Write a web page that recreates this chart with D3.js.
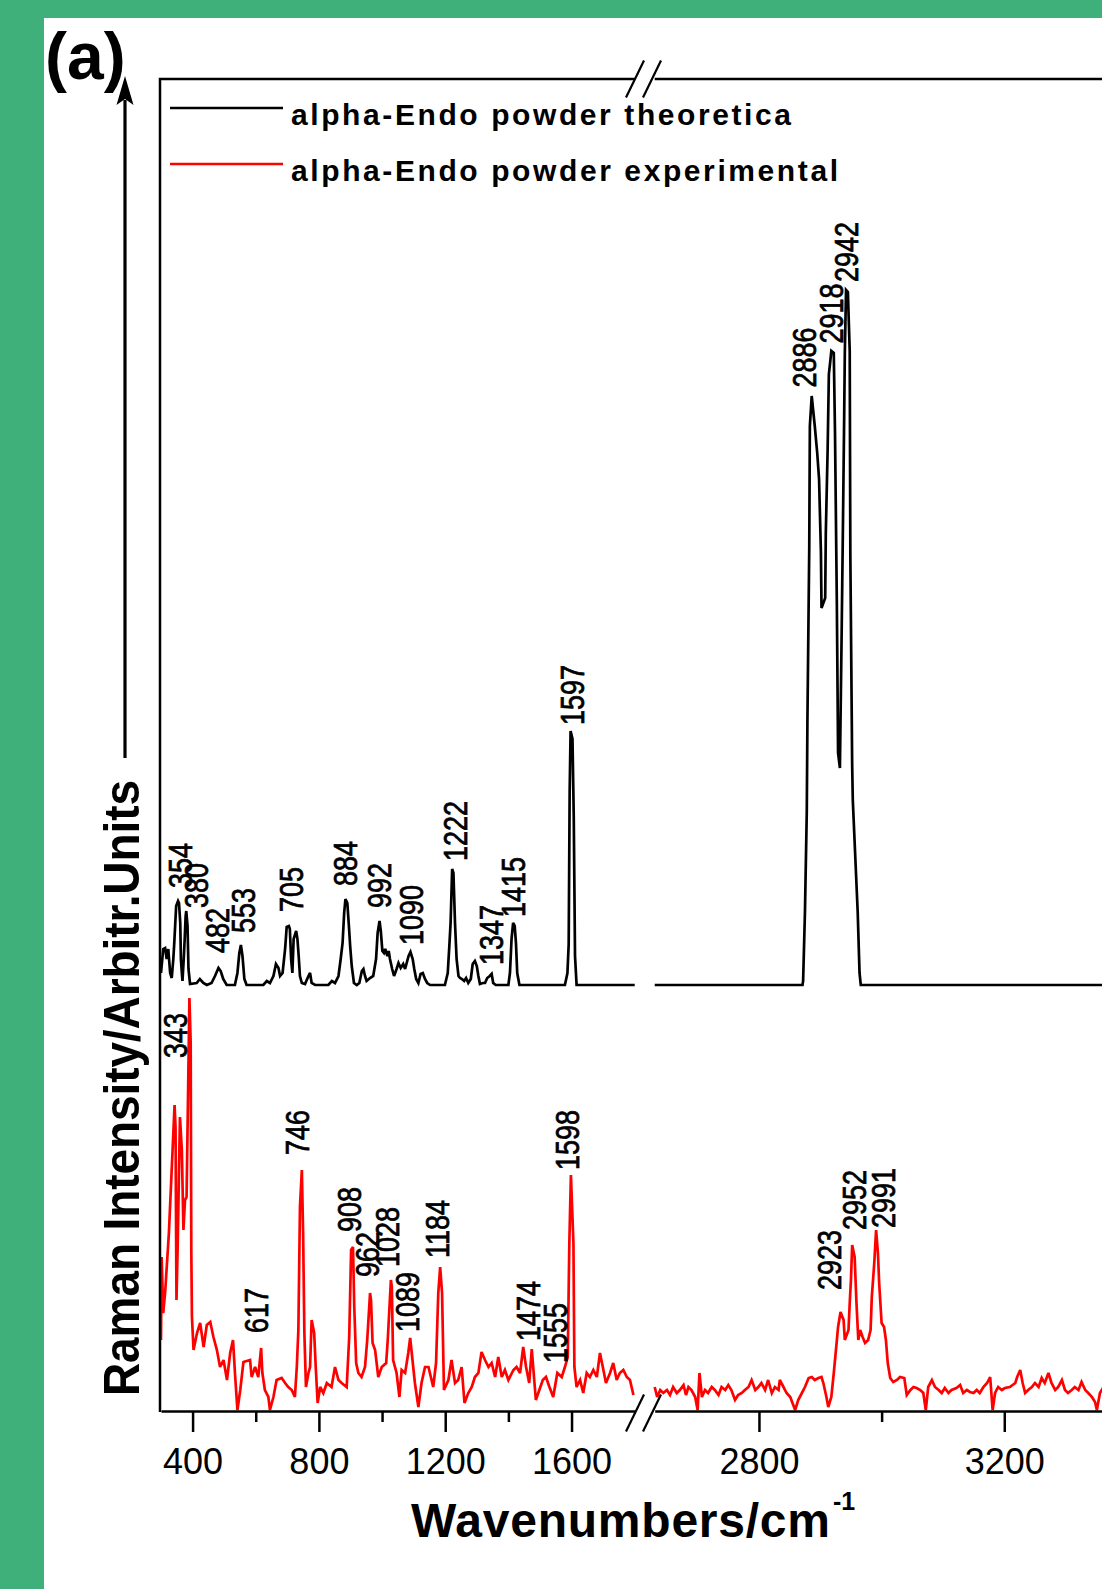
<!DOCTYPE html>
<html>
<head>
<meta charset="utf-8">
<script src="https://cdn.jsdelivr.net/npm/d3@7"></script>
<style>
  html, body { margin: 0; padding: 0; background: #3fb079; }
  svg { display: block; }
  text { font-family: "Liberation Sans", Arial, Helvetica, sans-serif; }
</style>
</head>
<body>
<svg id="chart" width="1102" height="1589"></svg>
<script>
// ---- axis segments (broken wavenumber axis) ----
const leftRange = [300, 1800];
const rightRange = [2630, 3360];
const majorLeftTicks = [400, 800, 1200, 1600];
const minorLeftTicks = [600, 1000, 1400];
const majorRightTicks = [2800, 3200];
const minorRightTicks = [3000];

// ---- theoretical spectrum (wavenumber, intensity above its own baseline) ----
const theoOffset = 426;
const theoLeft = [[300,12],[307,36],[313,37],[318,26],[323,36],[329,12],[334,7],[339,26],[342,42],[348,79],[354,84],[357,82],[361,62],[363,26],[366,12],[368,4],[372,26],[375,46],[378,69],[380,74],[384,59],[387,16],[392,1],[413,2],[423,6],[434,2],[445,0],[460,2],[471,9],[482,17],[489,14],[497,6],[508,0],[534,0],[542,12],[548,32],[553,40],[558,29],[564,6],[571,0],[624,0],[635,4],[645,2],[656,9],[664,21],[672,17],[677,9],[685,12],[693,36],[698,58],[705,59],[708,56],[712,26],[716,12],[720,46],[723,49],[728,54],[732,46],[736,29],[740,9],[746,2],[756,1],[767,9],[772,12],[777,2],[788,0],[830,0],[841,4],[851,2],[862,9],[869,26],[875,42],[880,72],[884,86],[890,82],[895,59],[899,39],[904,19],[911,2],[920,0],[928,2],[936,14],[941,16],[946,9],[951,4],[962,7],[972,9],[981,26],[986,52],[992,64],[996,54],[1001,34],[1006,32],[1010,36],[1017,29],[1021,34],[1025,26],[1032,16],[1038,9],[1046,16],[1052,22],[1059,17],[1067,21],[1073,16],[1078,22],[1084,29],[1090,33],[1097,26],[1102,16],[1108,6],[1115,2],[1122,11],[1129,12],[1136,6],[1143,2],[1152,0],[1199,0],[1208,12],[1213,39],[1217,62],[1222,116],[1226,112],[1231,62],[1236,26],[1242,9],[1247,7],[1253,6],[1260,4],[1266,7],[1273,2],[1281,6],[1287,21],[1294,24],[1300,19],[1305,9],[1310,1],[1319,2],[1326,2],[1333,7],[1341,9],[1347,11],[1352,2],[1360,0],[1400,0],[1405,12],[1410,46],[1415,62],[1420,59],[1424,42],[1428,12],[1435,0],[1579,0],[1587,12],[1591,41],[1594,192],[1597,254],[1603,246],[1607,169],[1611,29],[1616,0],[1800,0]];
const theoRight = [[2630,0],[2871,0],[2872,4],[2875,73],[2878,174],[2879,263],[2882,437],[2883,559],[2886,589],[2891,559],[2895,532],[2898,506],[2901,433],[2902,377],[2908,387],[2909,452],[2912,536],[2914,611],[2916,622],[2918,634],[2922,632],[2924,552],[2927,381],[2929,232],[2932,217],[2935,360],[2937,463],[2939,571],[2940,632],[2942,695],[2945,693],[2948,634],[2949,431],[2952,219],[2953,185],[2961,73],[2964,12],[2966,0],[3360,0]];

// ---- experimental spectrum (wavenumber, intensity) ----
const expLeft = [[300,71],[302,154],[307,98],[313,118],[325,178],[343,306],[346,284],[349,111],[353,168],[360,294],[366,261],[371,181],[376,211],[381,214],[390,413],[394,368],[396,158],[398,94],[403,61],[414,78],[424,88],[435,64],[445,86],[456,89],[466,74],[477,61],[487,44],[498,51],[509,31],[519,58],[528,71],[535,34],[542,1],[551,21],[561,49],[582,51],[587,34],[598,44],[608,34],[617,63],[621,38],[629,21],[640,14],[645,1],[656,14],[666,31],[682,33],[693,28],[703,24],[714,21],[724,14],[730,44],[735,81],[740,204],[746,241],[750,178],[754,78],[759,24],[767,38],[772,44],[777,91],[785,78],[790,44],[796,8],[804,24],[814,18],[825,28],[840,24],[851,44],[862,31],[872,28],[888,24],[896,74],[902,161],[908,164],[912,104],[918,48],[925,38],[935,34],[946,44],[953,71],[962,118],[965,111],[970,68],[978,61],[988,34],[999,44],[1013,48],[1018,71],[1028,131],[1031,124],[1035,51],[1046,38],[1055,14],[1062,41],[1073,38],[1083,58],[1089,73],[1094,58],[1104,28],[1115,4],[1125,28],[1136,44],[1147,44],[1162,24],[1171,48],[1178,118],[1184,144],[1190,118],[1196,21],[1210,31],[1220,51],[1231,28],[1241,31],[1252,44],[1261,8],[1273,18],[1284,24],[1294,34],[1305,38],[1315,59],[1326,51],[1337,44],[1347,48],[1358,34],[1368,54],[1379,34],[1389,41],[1400,31],[1416,41],[1426,44],[1437,38],[1447,64],[1456,44],[1466,28],[1474,62],[1487,11],[1498,21],[1509,31],[1519,34],[1530,24],[1542,14],[1555,38],[1569,34],[1579,44],[1588,54],[1593,168],[1598,236],[1606,168],[1609,44],[1616,24],[1627,31],[1637,18],[1648,38],[1658,34],[1669,41],[1680,34],[1690,58],[1699,44],[1709,28],[1722,38],[1732,48],[1743,31],[1753,38],[1764,41],[1775,34],[1785,31],[1796,16]];
const expRight = [[2630,24],[2634,14],[2639,21],[2644,18],[2650,21],[2655,16],[2660,24],[2666,18],[2671,21],[2677,26],[2681,16],[2685,24],[2690,21],[2696,14],[2700,1],[2703,38],[2707,14],[2712,21],[2717,18],[2723,24],[2728,21],[2734,16],[2739,24],[2745,21],[2750,26],[2755,21],[2761,11],[2766,16],[2772,18],[2777,21],[2783,24],[2788,31],[2794,21],[2799,24],[2804,28],[2810,21],[2815,31],[2821,18],[2826,24],[2832,21],[2834,31],[2840,24],[2845,18],[2851,14],[2859,1],[2864,11],[2870,18],[2875,24],[2881,33],[2886,34],[2891,31],[2897,33],[2902,34],[2905,28],[2910,14],[2913,4],[2918,14],[2922,38],[2926,64],[2929,84],[2933,99],[2938,91],[2940,71],[2946,81],[2948,108],[2950,131],[2952,166],[2956,154],[2959,108],[2962,71],[2965,81],[2969,74],[2973,68],[2978,71],[2982,81],[2984,114],[2988,148],[2991,181],[2994,158],[2996,128],[3000,88],[3004,84],[3007,71],[3010,48],[3014,33],[3019,29],[3025,31],[3030,34],[3037,33],[3041,16],[3047,21],[3052,24],[3057,23],[3063,21],[3068,18],[3072,1],[3076,24],[3082,31],[3087,24],[3093,21],[3098,18],[3103,23],[3109,18],[3114,21],[3122,23],[3128,26],[3133,18],[3139,21],[3144,19],[3150,18],[3155,21],[3160,18],[3166,24],[3172,28],[3177,34],[3181,1],[3185,18],[3190,24],[3196,21],[3201,23],[3209,24],[3218,28],[3221,34],[3226,41],[3230,28],[3234,18],[3239,21],[3245,24],[3250,28],[3256,24],[3261,33],[3266,28],[3272,38],[3277,28],[3283,21],[3288,24],[3294,31],[3299,21],[3304,18],[3310,21],[3315,24],[3321,21],[3326,29],[3332,21],[3337,18],[3343,14],[3348,9],[3351,1],[3356,18],[3362,24]];

// ---- peak annotations ----
const theoPeaks = [354, 380, 482, 553, 705, 884, 992, 1090, 1222, 1347, 1415, 1597, 2886, 2918, 2942];
const expPeaks = [343, 617, 746, 908, 962, 1028, 1089, 1184, 1474, 1555, 1598, 2923, 2952, 2991];

const seriesNames = ["alpha-Endo powder theoretica", "alpha-Endo powder experimental"];
const seriesColors = ["#000000", "#ff0000"];

// label placement tweaks: horizontal nudge and gap above the peak (px)
const theoLabelLayout = [[2,13],[10,3],[-1,15],[2,12],[2,14],[0,13],[0,13],[1,7],[3,8],[-1,9],[0,6],[2,6],[-8,8.5],[0,7.5],[0,8]];
const expLabelLayout = [[1,47],[-5,15],[-5,15],[-4,15],[-2.5,16],[-4,13],[-3.5,6],[-3.5,9],[-4,8],[-2.5,10],[-4,5],[-5,22],[2,15],[7,2]];

// ---- drawing ----
const W = 1102, H = 1589;
const AXIS_Y = 1411, TOP_Y = 79, LEFT_X = 160;
const svg = d3.select("#chart");

svg.append("rect").attr("width", W).attr("height", H).attr("fill", "#3fb079");
svg.append("rect").attr("x", 44).attr("y", 18).attr("width", W - 44).attr("height", H - 18).attr("fill", "#ffffff");

const xL = d3.scaleLinear().domain(leftRange).range([161, 634.7]);
const xR = d3.scaleLinear().domain(rightRange).range([654.7, 1102.4]);
const y = d3.scaleLinear().domain([0, 1332]).range([AXIS_Y, TOP_Y]);
const xOf = w => (w < 2200 ? xL(w) : xR(w));

// spectra
function drawSeries(data, xs, offset, color) {
  const line = d3.line().x(d => xs(d[0])).y(d => y(d[1] + offset));
  svg.append("path").datum(data)
    .attr("d", line)
    .attr("fill", "none")
    .attr("stroke", color)
    .attr("stroke-width", 2.7)
    .attr("stroke-linejoin", "miter")
    .attr("stroke-miterlimit", 3);
}
drawSeries(expLeft, xL, 0, seriesColors[1]);
drawSeries(expRight, xR, 0, seriesColors[1]);
drawSeries(theoLeft, xL, theoOffset, seriesColors[0]);
drawSeries(theoRight, xR, theoOffset, seriesColors[0]);

// frame: left axis and top edge (broken)
const frame = svg.append("g").attr("stroke", "#000").attr("stroke-width", 2.5).attr("fill", "none");
frame.append("path").attr("d", `M${LEFT_X},${AXIS_Y + 1}V${TOP_Y}H${xL.range()[1]}`);
frame.append("path").attr("d", `M${xR.range()[0]},${TOP_Y}H${W}`);

// bottom axes
function styleAxis(g, showDomain) {
  g.selectAll(".tick line").attr("stroke", "#000").attr("stroke-width", 2.5);
  g.select(".domain").attr("stroke", showDomain ? "#000" : "none").attr("stroke-width", 2.5);
  g.selectAll(".tick text")
    .attr("y", 63).attr("dy", 0)
    .attr("fill", "#000")
    .style("font-size", "36px")
    .style("font-family", '"Liberation Sans", Arial, sans-serif');
}
[[xL, majorLeftTicks, minorLeftTicks], [xR, majorRightTicks, minorRightTicks]].forEach(([xs, major, minor]) => {
  const gMinor = svg.append("g").attr("transform", `translate(0,${AXIS_Y})`)
    .call(d3.axisBottom(xs).tickValues(minor).tickSize(11).tickSizeOuter(0).tickFormat(""));
  styleAxis(gMinor, false);
  const gMajor = svg.append("g").attr("transform", `translate(0,${AXIS_Y})`)
    .call(d3.axisBottom(xs).tickValues(major).tickSize(21).tickSizeOuter(0).tickFormat(d3.format("d")));
  styleAxis(gMajor, true);
});

// axis break marks
const breaks = svg.append("g").attr("stroke", "#000").attr("stroke-width", 2.2);
[635, 652].forEach(bx => {
  [TOP_Y, AXIS_Y + 2].forEach(by => {
    breaks.append("line")
      .attr("x1", bx - 9).attr("y1", by + 18.5)
      .attr("x2", bx + 9).attr("y2", by - 18.5);
  });
});

// peak labels
function apexValue(data, w) {
  const exact = data.find(d => d[0] === w);
  if (exact) return exact[1];
  return d3.max(data.filter(d => Math.abs(d[0] - w) <= 12), d => d[1]);
}
function drawLabels(peaks, layout, leftData, rightData, offset) {
  peaks.forEach((w, i) => {
    const data = w < 2200 ? leftData : rightData;
    const [dx, gap] = layout[i];
    const px = xOf(w) + dx;
    const py = y(apexValue(data, w) + offset) - gap;
    svg.append("text")
      .attr("transform", `translate(${px},${py}) rotate(-90) scale(1,1.22)`)
      .attr("dy", "0.36em")
      .attr("text-anchor", "start")
      .attr("fill", "#000")
      .attr("stroke", "#000")
      .attr("stroke-width", 0.6)
      .style("font-size", "27px")
      .text(w);
  });
}
drawLabels(theoPeaks, theoLabelLayout, theoLeft, theoRight, theoOffset);
drawLabels(expPeaks, expLabelLayout, expLeft, expRight, 0);

// legend
const legendRows = [[108, 125, 500], [164, 181, 547]];
seriesNames.forEach((name, i) => {
  const [ly, ty, len] = legendRows[i];
  svg.append("line")
    .attr("x1", 170).attr("x2", 283).attr("y1", ly).attr("y2", ly)
    .attr("stroke", seriesColors[i]).attr("stroke-width", 2.5);
  svg.append("text")
    .attr("x", 291).attr("y", ty)
    .attr("textLength", len).attr("lengthAdjust", "spacing")
    .style("font-size", "30px").style("font-weight", "bold")
    .attr("fill", "#000")
    .text(name);
});

// y-axis title with upward arrow
svg.append("line")
  .attr("x1", 125).attr("x2", 125).attr("y1", 758).attr("y2", 100)
  .attr("stroke", "#000").attr("stroke-width", 3.2);
svg.append("path")
  .attr("d", "M125,76 L116.5,105 L125,99 L133.5,105 Z")
  .attr("fill", "#000");
svg.append("text")
  .attr("transform", "translate(138.5,1396) rotate(-90) scale(1,1.1)")
  .attr("textLength", 616).attr("lengthAdjust", "spacing")
  .style("font-size", "46px").style("font-weight", "bold")
  .attr("fill", "#000")
  .text("Raman Intensity/Arbitr.Units");

// x-axis title
svg.append("text")
  .attr("x", 411).attr("y", 1537)
  .attr("textLength", 419).attr("lengthAdjust", "spacing")
  .style("font-size", "48px").style("font-weight", "bold")
  .attr("fill", "#000")
  .text("Wavenumbers/cm");
svg.append("text")
  .attr("x", 833).attr("y", 1510)
  .style("font-size", "25px").style("font-weight", "bold")
  .attr("fill", "#000")
  .text("-1");

// panel tag
svg.append("text")
  .attr("x", 45).attr("y", 79)
  .style("font-size", "66px").style("font-weight", "bold")
  .attr("fill", "#000")
  .text("(a)");
</script>
</body>
</html>
